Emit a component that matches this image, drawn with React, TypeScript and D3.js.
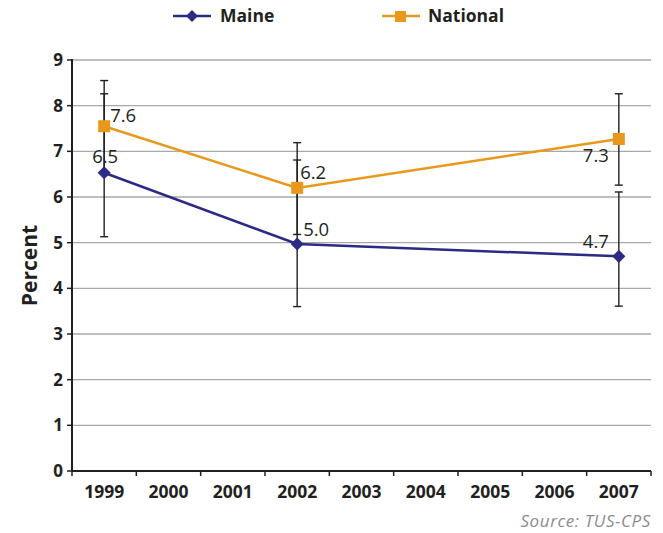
import React from "react";
import * as d3 from "d3";

const years = ["1999", "2000", "2001", "2002", "2003", "2004", "2005", "2006", "2007"];
const pointYears = ["1999", "2002", "2007"];
const maineValues = [6.53, 4.97, 4.7];
const maineLabels = ["6.5", "5.0", "4.7"];
const maineLow = [5.13, 3.6, 3.61];
const maineHigh = [8.26, 6.81, 6.11];
const nationalValues = [7.55, 6.2, 7.27];
const nationalLabels = ["7.6", "6.2", "7.3"];
const nationalLow = [6.55, 5.18, 6.26];
const nationalHigh = [8.55, 7.19, 8.26];
const yTicks = [0, 1, 2, 3, 4, 5, 6, 7, 8, 9];

const MAINE = "#2b2a85";
const NATIONAL = "#e8991c";
const TEXT = "#231f20";
const FONT = "'Open Sans', 'Noto Sans', sans-serif";

export default function App() {
  const W = 663, H = 533;
  const left = 72, right = 651, top = 60, bottom = 471;
  const x = d3.scaleBand<string>().domain(years).range([left, right]);
  const y = d3.scaleLinear().domain([0, 9]).range([bottom, top]);
  const cx = (yr: string) => (x(yr) as number) + x.bandwidth() / 2;
  const line = d3.line<number>().x((_, i) => cx(pointYears[i])).y((v) => y(v));

  const errBar = (lo: number, hi: number, yr: string, key: string) => {
    const px = cx(yr);
    return (
      <g key={key} stroke="#231f20" strokeWidth={1.4}>
        <line x1={px} x2={px} y1={y(lo)} y2={y(hi)} />
        <line x1={px - 4} x2={px + 4} y1={y(lo)} y2={y(lo)} />
        <line x1={px - 4} x2={px + 4} y1={y(hi)} y2={y(hi)} />
      </g>
    );
  };

  const maineLabelPos: [number, number, string][] = [[-12, -10, "start"], [6, -8, "start"], [-10, -8, "end"]];
  const nationalLabelPos: [number, number, string][] = [[6, -4, "start"], [3, -9, "start"], [-10, 23, "end"]];

  return (
    <svg width={W} height={H} style={{ display: "block", position: "absolute", left: 0, top: 0 }} fontFamily={FONT}>
      <rect width={W} height={H} fill="#fff" />
      <g>
        <line x1={173} x2={211} y1={16} y2={16} stroke={MAINE} strokeWidth={2.5} />
        <path d={d3.symbol(d3.symbolDiamond2, 90)() as string} transform="translate(192,16)" fill={MAINE} />
        <text x={220} y={22} fontSize={17.5} fontWeight="bold" fill={TEXT}>Maine</text>
        <line x1={382} x2={420} y1={16} y2={16} stroke={NATIONAL} strokeWidth={2.5} />
        <rect x={395} y={11} width={11} height={11} fill={NATIONAL} />
        <text x={428} y={22} fontSize={17.5} fontWeight="bold" fill={TEXT}>National</text>
      </g>
      {yTicks.filter((t) => t > 0).map((t) => (
        <line key={t} x1={left} x2={right} y1={y(t)} y2={y(t)} stroke="#a7a9ac" strokeWidth={1.3} />
      ))}
      <line x1={left} x2={left} y1={top - 1} y2={bottom} stroke={TEXT} strokeWidth={2} />
      {yTicks.map((t) => (
        <g key={t}>
          <line x1={left - 5} x2={left} y1={y(t)} y2={y(t)} stroke={TEXT} strokeWidth={1.5} />
          <text x={left - 9} y={y(t) + 6} textAnchor="end" fontSize={17} fontWeight="bold" fill={TEXT}>{t}</text>
        </g>
      ))}
      <line x1={left} x2={right} y1={bottom} y2={bottom} stroke={TEXT} strokeWidth={2} />
      {years.map((yr) => (
        <g key={yr}>
          <line x1={x(yr) as number} x2={x(yr) as number} y1={bottom} y2={bottom + 5} stroke={TEXT} strokeWidth={1.5} />
          <text x={cx(yr)} y={bottom + 27} textAnchor="middle" fontSize={17.5} fontWeight="bold" fill={TEXT}>{yr}</text>
        </g>
      ))}
      <line x1={right} x2={right} y1={bottom} y2={bottom + 5} stroke={TEXT} strokeWidth={1.5} />
      <text transform={`translate(37,${(top + bottom) / 2}) rotate(-90)`} textAnchor="middle" fontSize={21} fontWeight="bold" fill={TEXT}>Percent</text>
      {pointYears.map((yr, i) => errBar(nationalLow[i], nationalHigh[i], yr, "n" + i))}
      {pointYears.map((yr, i) => errBar(maineLow[i], maineHigh[i], yr, "m" + i))}
      <path d={line(nationalValues) as string} fill="none" stroke={NATIONAL} strokeWidth={2.5} />
      <path d={line(maineValues) as string} fill="none" stroke={MAINE} strokeWidth={2.5} />
      {nationalValues.map((v, i) => (
        <rect key={i} x={cx(pointYears[i]) - 6} y={y(v) - 6} width={12} height={12} fill={NATIONAL} />
      ))}
      {maineValues.map((v, i) => (
        <path key={i} d={d3.symbol(d3.symbolDiamond2, 110)() as string} transform={`translate(${cx(pointYears[i])},${y(v)})`} fill={MAINE} />
      ))}
      {nationalValues.map((v, i) => (
        <text key={i} x={cx(pointYears[i]) + nationalLabelPos[i][0]} y={y(v) + nationalLabelPos[i][1]} textAnchor={nationalLabelPos[i][2] as any} fontSize={18.5} fill={TEXT}>{nationalLabels[i]}</text>
      ))}
      {maineValues.map((v, i) => (
        <text key={i} x={cx(pointYears[i]) + maineLabelPos[i][0]} y={y(v) + maineLabelPos[i][1]} textAnchor={maineLabelPos[i][2] as any} fontSize={18.5} fill={TEXT}>{maineLabels[i]}</text>
      ))}
      <text x={right} y={527} textAnchor="end" fontSize={17} fontStyle="italic" letterSpacing={0.6} fill="#8a8c8e">Source: TUS-CPS</text>
    </svg>
  );
}
